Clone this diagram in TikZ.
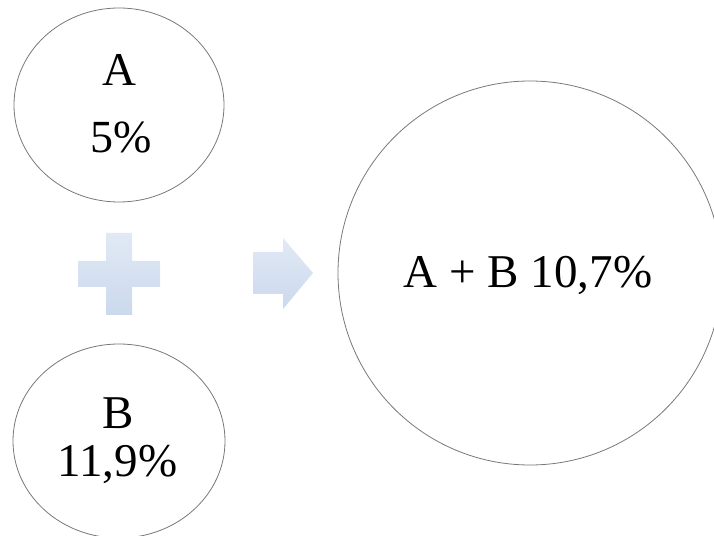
\documentclass[tikz,border=0pt]{standalone}
\usepackage{fontspec}
\setmainfont{Liberation Serif}
\usetikzlibrary{shapes.geometric}
\definecolor{ringgray}{RGB}{120,120,120}
\definecolor{signtop}{RGB}{225,233,245}
\definecolor{signbot}{RGB}{203,217,237}

\begin{document}
\begin{tikzpicture}[x=1pt,y=1pt,
  ring/.style={draw=ringgray,line width=0.8pt,inner sep=0pt},
  signfill/.style={draw=none,top color=signtop,bottom color=signbot},
  label/.style={anchor=base,inner sep=0pt,font=\fontsize{47}{47}\selectfont}]
\useasboundingbox (0,0) rectangle (714,535);
\clip (0,0) rectangle (714,535);
% the three rings
\node[ring,ellipse,minimum width=210pt,minimum height=194pt] (ringA) at (119,430) {};
\node[ring,ellipse,minimum width=212pt,minimum height=194pt] (ringB) at (119,94) {};
\node[ring,circle,minimum size=384pt] (ringAB) at (530,262) {};
% texts
\node[label] (nameA) at (119,449) {A};
\node[label,font=\fontsize{46}{46}\selectfont] (valA) at (121,382) {5\%};
\node[label] (nameB) at (118,106) {B};
\node[label] (valB) at (117.5,58) {11,9\%};
\node[label] (valAB) at (528,247) {A + B 10,7\%};
% plus sign and arrow
\path[signfill] (106,220)--(132,220)--(132,248)--(160,248)--(160,274)--(132,274)
  --(132,302)--(106,302)--(106,274)--(78,274)--(78,248)--(106,248)--cycle;
\path[signfill] (253,241)--(283,241)--(283,226)--(313,262)--(283,297)--(283,283)
  --(253,283)--cycle;
\end{tikzpicture}
\end{document}
